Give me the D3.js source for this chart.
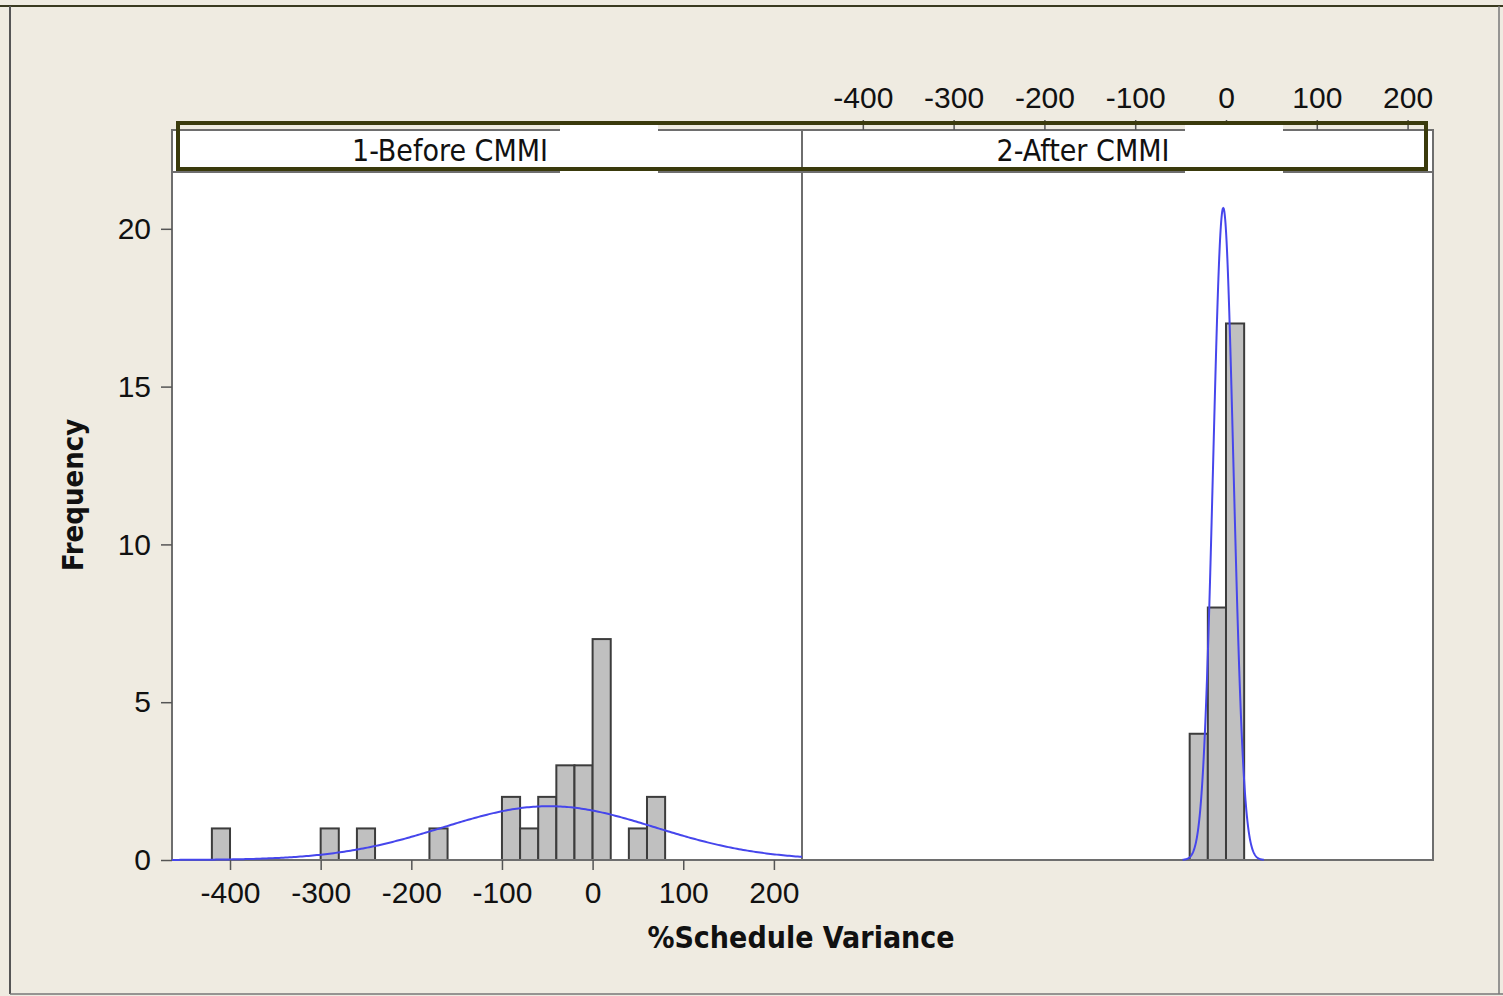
<!DOCTYPE html>
<html>
<head>
<meta charset="utf-8">
<script src="https://cdn.jsdelivr.net/npm/d3@7"></script>
<style>
  body { margin: 0; background: #efebe1; }
  svg text { font-family: "DejaVu Sans Condensed", "DejaVu Sans", Tahoma, sans-serif; fill: #111; }
</style>
</head>
<body>
<div id="chart"></div>
<script>
// histogram bins (left edge of each bin, width 20)
var binWidth = 20;
var beforeBins = [-420, -300, -260, -180, -100, -80, -60, -40, -20, 0, 40, 60];
var beforeCounts = [1, 1, 1, 1, 2, 1, 2, 3, 3, 7, 1, 2];
var afterBins = [-40, -20, 0];
var afterCounts = [4, 8, 17];
// fitted normal curves
var beforeFit = { mean: -48, sd: 117, n: 25 };
var afterFit = { mean: -3, sd: 11.2, n: 29 };
var xTicks = [-400, -300, -200, -100, 0, 100, 200];
var yTicks = [0, 5, 10, 15, 20];
var panels = ["1-Before CMMI", "2-After CMMI"];

var W = 1503, H = 996;
var svg = d3.select("#chart").append("svg")
    .attr("width", W).attr("height", H);

svg.append("rect").attr("width", W).attr("height", H).attr("fill", "#efebe1");
// outer frame
svg.append("line").attr("x1", 0).attr("x2", W).attr("y1", 6).attr("y2", 6)
    .attr("stroke", "#3a3a20").attr("stroke-width", 2);
svg.append("line").attr("x1", 10).attr("x2", 10).attr("y1", 6).attr("y2", 994)
    .attr("stroke", "#555").attr("stroke-width", 2);
svg.append("line").attr("x1", 1499).attr("x2", 1499).attr("y1", 6).attr("y2", 994)
    .attr("stroke", "#777").attr("stroke-width", 1.5);
svg.append("line").attr("x1", 10).attr("x2", W).attr("y1", 994).attr("y2", 994)
    .attr("stroke", "#777").attr("stroke-width", 1.5);

var plotTop = 172, plotBottom = 860, stripTop = 130;
var xL = d3.scaleLinear().domain([-464, 231]).range([172, 802]);
var xR = d3.scaleLinear().domain([-467, 228]).range([802, 1433]);
var y = d3.scaleLinear().domain([0, 21.8]).range([plotBottom, plotTop]);
var fmt = d => String(d);

// panel backgrounds
svg.append("rect").attr("x", 172).attr("y", stripTop).attr("width", 1433 - 172).attr("height", plotBottom - stripTop)
    .attr("fill", "white");

function drawBars(x, bins, counts) {
    svg.append("g").selectAll("rect").data(bins).enter().append("rect")
        .attr("x", d => x(d))
        .attr("width", d => x(d + binWidth) - x(d))
        .attr("y", (d, i) => y(counts[i]))
        .attr("height", (d, i) => plotBottom - y(counts[i]))
        .attr("fill", "#c0c0c0")
        .attr("stroke", "#3c3c3c")
        .attr("stroke-width", 2);
}

function drawCurve(x, fit) {
    var lo = Math.max(x.domain()[0], fit.mean - 4 * fit.sd),
        hi = Math.min(x.domain()[1], fit.mean + 4 * fit.sd);
    var pts = d3.range(0, 301).map(i => lo + (hi - lo) * i / 300);
    var dens = v => fit.n * binWidth / (fit.sd * Math.sqrt(2 * Math.PI)) *
        Math.exp(-0.5 * Math.pow((v - fit.mean) / fit.sd, 2));
    svg.append("path")
        .datum(pts)
        .attr("d", d3.line().x(v => x(v)).y(v => y(dens(v))))
        .attr("fill", "none")
        .attr("stroke", "#4646ec")
        .attr("stroke-width", 2);
}
drawBars(xL, beforeBins, beforeCounts);
drawBars(xR, afterBins, afterCounts);

// borders
var frame = svg.append("g").attr("fill", "none").attr("stroke", "#6e6e6e").attr("stroke-width", 2);
frame.append("rect").attr("x", 172).attr("y", stripTop).attr("width", 1433 - 172).attr("height", plotBottom - stripTop);
frame.append("line").attr("x1", 172).attr("x2", 1433).attr("y1", plotTop).attr("y2", plotTop);
frame.append("line").attr("x1", 802).attr("x2", 802).attr("y1", stripTop).attr("y2", plotBottom);

drawCurve(xL, beforeFit);
drawCurve(xR, afterFit);

// strip labels
svg.selectAll("text.strip").data(panels).enter().append("text")
    .attr("class", "strip")
    .attr("x", (d, i) => i == 0 ? 450 : 1083)
    .attr("y", 161)
    .attr("text-anchor", "middle")
    .attr("font-size", 30)
    .text(d => d);

// y axis
var yAxis = svg.append("g").attr("transform", "translate(172,0)")
    .call(d3.axisLeft(y).tickValues(yTicks).tickSize(11).tickPadding(10));
yAxis.select(".domain").remove();
yAxis.selectAll("text").attr("font-size", 30).style("font-family", "inherit");
yAxis.selectAll("line").attr("stroke", "#555").attr("stroke-width", 1.5);

// bottom axis of left panel
var xAxisL = svg.append("g").attr("transform", "translate(0," + plotBottom + ")")
    .call(d3.axisBottom(xL).tickValues(xTicks).tickSize(10).tickPadding(12).tickFormat(fmt));
xAxisL.select(".domain").remove();
xAxisL.selectAll("text").attr("font-size", 30).style("font-family", "inherit");
xAxisL.selectAll("line").attr("stroke", "#555").attr("stroke-width", 1.5);

// top axis of right panel
var xAxisR = svg.append("g").attr("transform", "translate(0," + stripTop + ")")
    .call(d3.axisTop(xR).tickValues(xTicks).tickSize(10).tickPadding(12).tickFormat(fmt));
xAxisR.select(".domain").remove();
xAxisR.selectAll("text").attr("font-size", 30).style("font-family", "inherit");
xAxisR.selectAll("line").attr("stroke", "#555").attr("stroke-width", 1.5);

// white patches over strip border
[[560, 98], [1185, 98]].forEach(p => {
    svg.append("rect").attr("x", p[0]).attr("y", 123).attr("width", p[1]).attr("height", 52)
        .attr("fill", "white");
});
// highlight box around strips
svg.append("rect").attr("x", 178).attr("y", 123).attr("width", 1248).attr("height", 46)
    .attr("fill", "none").attr("stroke", "#3a3a0c").attr("stroke-width", 4);

// axis titles
svg.append("text")
    .attr("transform", "translate(83,495) rotate(-90)")
    .attr("text-anchor", "middle")
    .attr("font-size", 29).attr("font-weight", "bold")
    .text("Frequency");
svg.append("text")
    .attr("x", 801).attr("y", 948)
    .attr("text-anchor", "middle")
    .attr("font-size", 30).attr("font-weight", "bold")
    .text("%Schedule Variance");
</script>
</body>
</html>
